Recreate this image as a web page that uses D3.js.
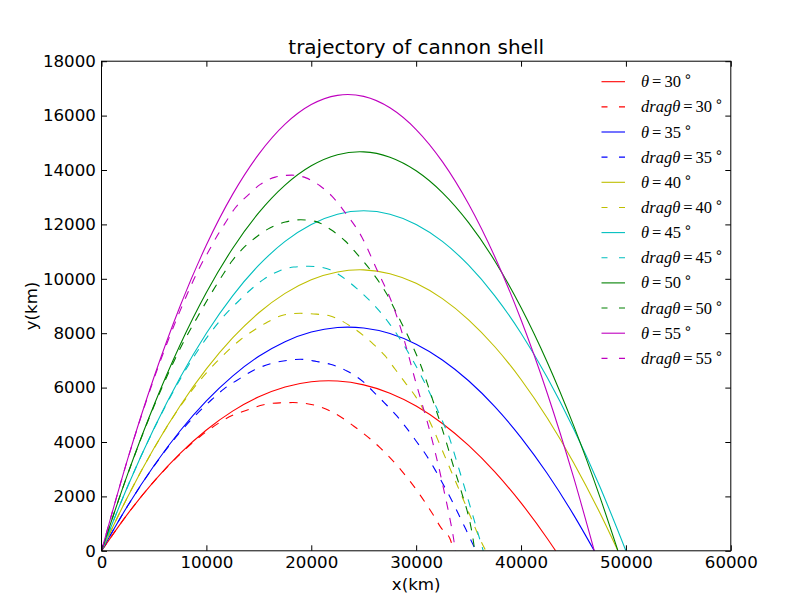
<!DOCTYPE html>
<html>
<head>
<meta charset="utf-8">
<script src="https://cdn.jsdelivr.net/npm/d3@7"></script>
<style>
  body { margin: 0; background: #fff; }
  #chart { display: block; }
</style>
</head>
<body>
<svg id="chart"></svg>
<script>
// values (x, y in km)
var xTicks = [0, 10000, 20000, 30000, 40000, 50000, 60000];
var yTicks = [0, 2000, 4000, 6000, 8000, 10000, 12000, 14000, 16000, 18000];
var angles = [30, 35, 40, 45, 50, 55];

var ideal30 = [[0,0],[2500,1360],[5000,2553],[7500,3580],[10000,4440],[12500,5134],[15000,5660],[17500,6020],[20000,6214],[21650,6250],[22500,6240],[25000,6100],[27500,5794],[30000,5321],[32500,4681],[35000,3874],[37500,2901],[40000,1761],[42500,454],[43300,0]];
var ideal35 = [[0,0],[2500,1657],[5000,3128],[7500,4413],[10000,5512],[12500,6424],[15000,7150],[17500,7690],[20000,8043],[22500,8210],[23490,8225],[25000,8191],[27500,7986],[30000,7594],[32500,7016],[35000,6251],[37500,5301],[40000,4164],[42500,2841],[45000,1331],[46985,0]];
var ideal40 = [[0,0],[2500,1991],[5000,3770],[7500,5335],[10000,6687],[12500,7826],[15000,8752],[17500,9465],[20000,9966],[22500,10253],[24620,10330],[25000,10327],[27500,10188],[30000,9836],[32500,9271],[35000,8493],[37500,7502],[40000,6298],[42500,4881],[45000,3250],[47500,1407],[49240,0]];
var ideal45 = [[0,0],[2500,2375],[5000,4500],[7500,6375],[10000,8000],[12500,9375],[15000,10500],[17500,11375],[20000,12000],[22500,12375],[25000,12500],[27500,12375],[30000,12000],[32500,11375],[35000,10500],[37500,9375],[40000,8000],[42500,6375],[45000,4500],[47500,2375],[50000,0]];
var ideal50 = [[0,0],[2500,2828],[5000,5354],[7500,7577],[10000,9497],[12500,11115],[15000,12431],[17500,13444],[20000,14154],[22500,14562],[24620,14670],[25000,14667],[27500,14470],[30000,13970],[32500,13168],[35000,12063],[37500,10656],[40000,8946],[42500,6934],[45000,4619],[47500,2001],[49240,0]];
var ideal55 = [[0,0],[2500,3380],[5000,6381],[7500,9001],[10000,11242],[12500,13103],[15000,14583],[17500,15684],[20000,16405],[22500,16745],[23490,16775],[25000,16706],[27500,16287],[30000,15488],[32500,14309],[35000,12750],[37500,10811],[40000,8492],[42500,5794],[45000,2715],[46985,0]];

var drag30 = [[0,0],[2500,1358],[5000,2545],[7500,3555],[10000,4380],[12500,4980],[13700,5150],[15460,5370],[17000,5440],[18250,5450],[20000,5380],[21800,5145],[24000,4600],[26500,3810],[28600,2950],[30400,2040],[31500,1400],[32350,860],[33300,370],[33520,0]];
var drag35 = [[0,0],[2500,1654],[5000,3113],[7500,4363],[10540,5571],[11714,5963],[13175,6331],[14508,6637],[16159,6882],[17500,6990],[18950,7041],[20500,6960],[21810,6858],[23400,6612],[25000,6200],[25841,5878],[26952,5449],[28159,4959],[29111,4500],[30063,4000],[30857,3575],[31810,2975],[32603,2424],[33365,1873],[34067,1322],[34762,771],[35400,245],[35700,0]];
var drag40 = [[0,0],[2500,1989],[5000,3760],[7500,5305],[8952,6061],[11016,6960],[13302,7776],[14571,8118],[15841,8412],[17365,8669],[18950,8731],[20500,8700],[21810,8633],[23714,8265],[25937,7592],[27048,7163],[28000,6674],[28952,6184],[29905,5694],[31492,4592],[32286,3880],[33400,2870],[34505,1880],[35457,1000],[36100,420],[36640,0]];
var drag45 = [[0,0],[2500,2372],[5000,4480],[7500,6310],[8952,7225],[11968,8755],[13079,9184],[14190,9588],[15460,9980],[17000,10300],[18317,10432],[19746,10460],[21000,10420],[21810,10330],[22762,10120],[24352,9640],[25619,9180],[27362,8400],[29111,7380],[29746,6960],[30698,6270],[31333,5770],[31968,5240],[32603,4680],[33238,4080],[33556,3680],[34029,3080],[34800,2090],[35457,1230],[36000,510],[36400,0]];
var drag50 = [[0,0],[2500,2820],[5000,5310],[7500,7437],[9114,8571],[11492,10102],[12444,10653],[13556,11143],[14667,11510],[16095,11877],[17524,12086],[19000,12170],[20400,12110],[21810,11820],[23240,11390],[24350,10920],[25780,10250],[27210,9430],[28310,8600],[29430,7720],[30380,6880],[31020,6200],[31500,5640],[32290,4720],[33080,3730],[33460,3230],[33940,2640],[34410,2050],[34890,1430],[35210,900],[35460,350],[35580,0]];
var drag55 = [[0,0],[2500,3372],[5000,6325],[7500,8830],[9429,10469],[10222,11021],[11016,11571],[11810,12060],[12762,12612],[13873,13041],[15143,13470],[16571,13739],[18159,13812],[19500,13710],[20860,13410],[21970,13040],[23240,12430],[24830,11530],[26260,10330],[27690,9120],[28550,8150],[29300,7150],[29905,6280],[30381,5650],[30698,5230],[31175,4580],[31587,3980],[31905,3480],[32286,2860],[32603,2300],[32984,1620],[33302,1020],[33556,480],[33740,0]];

var idealSeries = [ideal30, ideal35, ideal40, ideal45, ideal50, ideal55];
var dragSeries = [drag30, drag35, drag40, drag45, drag50, drag55];
var colors = ["#ff0000", "#0000ff", "#bfbf00", "#00bfbf", "#008000", "#bf00bf"];

var W = 812, H = 612;
var margin = {top: 61.2, right: 81.2, bottom: 61.2, left: 101.5};
var width = W - margin.left - margin.right;
var height = H - margin.top - margin.bottom;

var root = d3.select("#chart")
    .attr("width", W)
    .attr("height", H)
    .style("font-family", "'DejaVu Sans', sans-serif");
var svg = root.append("g")
    .attr("transform", "translate(" + margin.left + "," + margin.top + ")");

var x = d3.scaleLinear().domain([0, 60000]).range([0, width]);
var y = d3.scaleLinear().domain([0, 18000]).range([height, 0]);

svg.append("clipPath").attr("id", "plotclip")
  .append("rect").attr("width", width).attr("height", height);

var line = d3.line()
    .x(function(d) { return x(d[0]); })
    .y(function(d) { return y(d[1]); })
    .curve(d3.curveMonotoneX);

var lines = svg.append("g").attr("clip-path", "url(#plotclip)");
angles.forEach(function(a, i) {
  lines.append("path")
    .attr("d", line(idealSeries[i]))
    .attr("fill", "none")
    .attr("stroke", colors[i])
    .attr("stroke-width", 1.1);
  lines.append("path")
    .attr("d", line(dragSeries[i]))
    .attr("fill", "none")
    .attr("stroke", colors[i])
    .attr("stroke-width", 1.1)
    .attr("stroke-dasharray", "8.3,8.3");
});

// axes: ticks point inward on all four sides
var tickLen = 5.5;
function styleAxis(g) {
  g.select(".domain").remove();
  g.selectAll(".tick line").attr("stroke", "#000");
  g.selectAll(".tick text").attr("font-size", "16.67px").attr("fill", "#000")
    .attr("font-family", "'DejaVu Sans', sans-serif");
}
svg.append("g")
    .attr("transform", "translate(0," + height + ")")
    .call(d3.axisBottom(x).tickValues(xTicks).tickFormat(d3.format("d"))
      .tickSizeInner(-tickLen).tickSizeOuter(0).tickPadding(5.6))
    .call(styleAxis);
svg.append("g")
    .call(d3.axisTop(x).tickValues(xTicks).tickFormat("")
      .tickSizeInner(-tickLen).tickSizeOuter(0))
    .call(styleAxis);
svg.append("g")
    .call(d3.axisLeft(y).tickValues(yTicks).tickFormat(d3.format("d"))
      .tickSizeInner(-tickLen).tickSizeOuter(0).tickPadding(5.6))
    .call(styleAxis);
svg.append("g")
    .attr("transform", "translate(" + width + ",0)")
    .call(d3.axisRight(y).tickValues(yTicks).tickFormat("")
      .tickSizeInner(-tickLen).tickSizeOuter(0))
    .call(styleAxis);

svg.append("rect")
    .attr("width", width)
    .attr("height", height)
    .attr("fill", "none")
    .attr("stroke", "#000")
    .attr("stroke-width", 1);

svg.append("text")
    .attr("x", width / 2)
    .attr("y", -7.5)
    .attr("text-anchor", "middle")
    .attr("font-size", "20px")
    .text("trajectory of cannon shell");

svg.append("text")
    .attr("x", width / 2)
    .attr("y", height + 39.5)
    .attr("text-anchor", "middle")
    .attr("font-size", "16.67px")
    .text("x(km)");

svg.append("text")
    .attr("transform", "translate(" + (-64.5) + "," + (height / 2) + ") rotate(-90)")
    .attr("text-anchor", "middle")
    .attr("font-size", "16.67px")
    .text("y(km)");

// legend, no frame
var legend = root.append("g").attr("class", "legend");
var entries = [];
angles.forEach(function(a, i) {
  entries.push({prefix: "", angle: a, color: colors[i], dashed: false});
  entries.push({prefix: "drag", angle: a, color: colors[i], dashed: true});
});
var rowY = function(i) { return 81.7 + i * 25.15; };

var item = legend.selectAll("g")
    .data(entries)
    .enter().append("g")
      .attr("transform", function(d, i) { return "translate(0," + rowY(i) + ")"; });

item.append("line")
    .attr("x1", 601.5)
    .attr("x2", 625)
    .attr("stroke", function(d) { return d.color; })
    .attr("stroke-width", 1.1)
    .attr("stroke-dasharray", function(d) { return d.dashed ? "6,11.5" : null; });

var label = item.append("text")
    .attr("x", 641)
    .attr("y", 5.5)
    .attr("font-family", "'Liberation Serif', 'DejaVu Serif', serif")
    .attr("font-size", "16.5px");
label.append("tspan")
    .attr("font-style", "italic")
    .text(function(d) { return d.prefix + "θ"; });
label.append("tspan").attr("dx", 3).text("=");
label.append("tspan").attr("dx", 3).text(function(d) { return d.angle; });
label.append("tspan")
    .attr("dx", 2.5)
    .attr("dy", -6)
    .attr("font-family", "'DejaVu Sans', sans-serif")
    .attr("font-size", "14px")
    .text("∘");
</script>
</body>
</html>
